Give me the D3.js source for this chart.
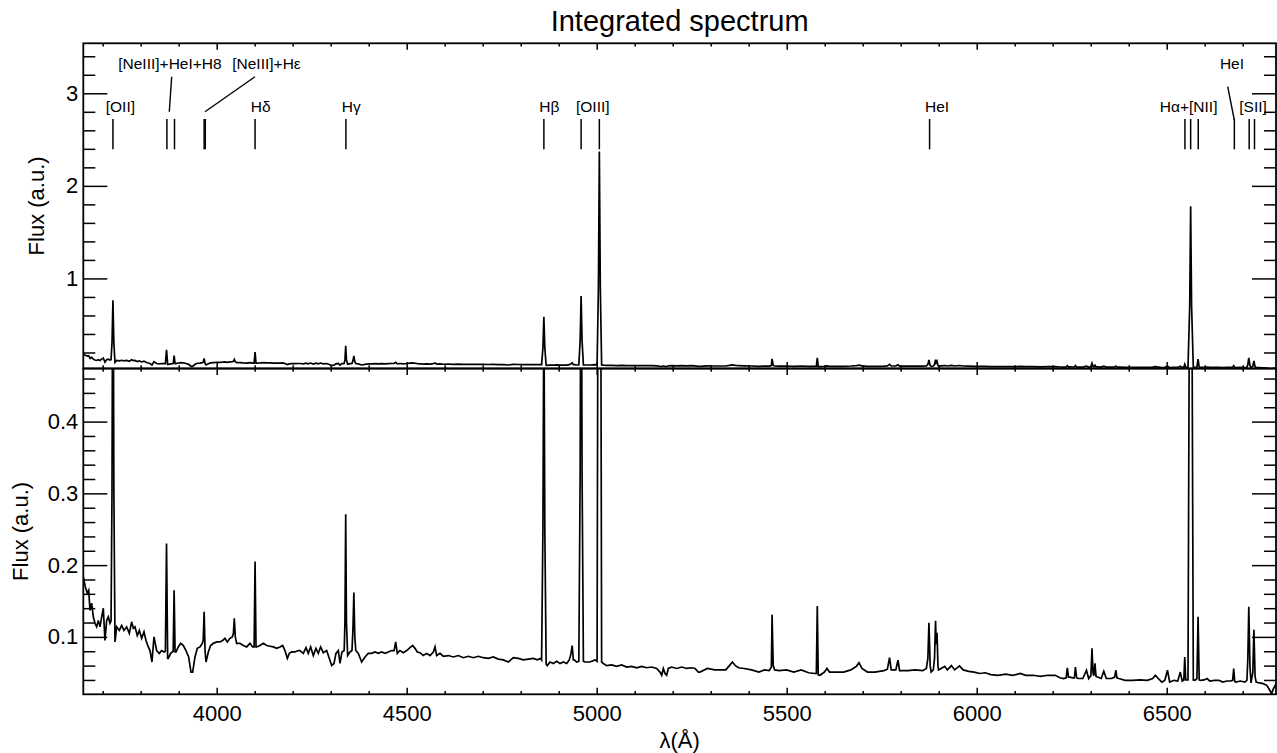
<!DOCTYPE html>
<html>
<head>
<meta charset="utf-8">
<title>Integrated spectrum</title>
<script src="https://cdn.jsdelivr.net/npm/d3@7"></script>
<style>
  body { margin: 0; background: #fff; }
  svg { display: block; font-family: "Liberation Sans", Arial, Helvetica, sans-serif; }
</style>
</head>
<body>
<script>
// spectrum as [wavelength (A), flux (a.u.)]
const specBlue = [
  [3649, 0.184], [3654.2, 0.170], [3659.5, 0.161], [3663.2, 0.165], [3666.6, 0.137], [3671, 0.147],
  [3675.3, 0.128], [3679.7, 0.119], [3684.2, 0.114], [3688.4, 0.123], [3692.9, 0.114], [3697.4, 0.128],
  [3701.6, 0.140], [3706, 0.095], [3710.5, 0.123], [3714.7, 0.128], [3719.2, 0.119],
  [3722, 0.122], [3724.5, 0.30], [3727, 0.765], [3729.5, 0.30], [3732.4, 0.093],
  [3736.8, 0.114], [3743.8, 0.109], [3749.9, 0.116], [3756.1, 0.109], [3763.1, 0.114], [3770.1, 0.105],
  [3776.2, 0.121], [3780.6, 0.112], [3785.0, 0.114], [3791.1, 0.102], [3796.4, 0.109], [3802.6, 0.098],
  [3808.7, 0.107], [3814.0, 0.095], [3820.1, 0.086], [3824.5, 0.081], [3829.7, 0.065], [3835.0, 0.100],
  [3842.0, 0.081], [3849.0, 0.077], [3855.2, 0.081], [3861.3, 0.079], [3865, 0.080],
  [3868, 0.230], [3871, 0.070], [3872.7, 0.070], [3878.9, 0.077], [3885.5, 0.080],
  [3888, 0.165], [3890.5, 0.079], [3892.9, 0.079], [3899.0, 0.086], [3905.2, 0.091], [3912.2, 0.088],
  [3919.2, 0.081], [3926.2, 0.072], [3932.4, 0.051], [3936.8, 0.051], [3942.9, 0.072], [3949.0, 0.084],
  [3956.1, 0.086], [3962.2, 0.091], [3964.5, 0.095], [3967, 0.135], [3969.5, 0.080], [3971.9, 0.065],
  [3978.0, 0.079], [3984.1, 0.088], [3991.1, 0.091], [3999.9, 0.093], [4008.7, 0.093], [4015.7, 0.095],
  [4021.8, 0.098], [4028.0, 0.093], [4035.0, 0.098], [4041.1, 0.100], [4044, 0.105], [4046.4, 0.126],
  [4049, 0.100], [4052.5, 0.091], [4061.3, 0.091], [4070.1, 0.088], [4078.8, 0.086], [4087.6, 0.091],
  [4094.6, 0.086], [4098.5, 0.086], [4101, 0.205], [4103.5, 0.086], [4105.2, 0.086], [4114.0, 0.088],
  [4122.7, 0.091], [4131.5, 0.088], [4140.3, 0.087], [4149.0, 0.086], [4157.8, 0.084], [4166.6, 0.086],
  [4173.6, 0.088], [4179.7, 0.081], [4185.9, 0.070], [4191.2, 0.077], [4197.3, 0.079], [4206.1, 0.079],
  [4214.9, 0.081]
];

const specMid = [
  [4219.2, 0.081], [4228.0, 0.077], [4235.0, 0.085], [4241.1, 0.077], [4247.3, 0.086], [4254.3, 0.074],
  [4261.3, 0.084], [4267.4, 0.077], [4273.6, 0.086], [4280.6, 0.078], [4289.4, 0.081], [4296.4, 0.070],
  [4302.5, 0.060], [4308.7, 0.063], [4313.9, 0.077], [4320.1, 0.081], [4324.5, 0.063], [4329.7, 0.079],
  [4335.5, 0.081], [4337.5, 0.120], [4339.5, 0.271], [4341.5, 0.120], [4344.6, 0.074], [4350.8, 0.079],
  [4356, 0.081], [4358.5, 0.110], [4361, 0.162], [4363.5, 0.100], [4366, 0.081], [4372.7, 0.077],
  [4381.5, 0.065], [4390.3, 0.072], [4399.0, 0.077], [4407.8, 0.077], [4416.6, 0.079], [4425.3, 0.077],
  [4434.1, 0.079], [4442.9, 0.077], [4451.7, 0.079], [4460.4, 0.081], [4467, 0.081], [4471, 0.093],
  [4475.3, 0.077], [4482.4, 0.081], [4491.1, 0.078], [4499.9, 0.081], [4508.7, 0.085], [4515.7, 0.088],
  [4521.8, 0.084], [4528.0, 0.079], [4535.0, 0.078], [4543.8, 0.074], [4552.5, 0.077], [4561.3, 0.074],
  [4570.1, 0.079], [4574.5, 0.086], [4578.9, 0.074], [4587.6, 0.077], [4596.4, 0.073], [4609.6, 0.074],
  [4622.7, 0.072], [4635.9, 0.074], [4649.0, 0.071], [4662.2, 0.073], [4675.3, 0.071], [4688.5, 0.073],
  [4701.7, 0.071], [4714.8, 0.070], [4728.0, 0.072], [4741.1, 0.069], [4754.3, 0.068], [4767.5, 0.065],
  [4780.6, 0.071], [4793.8, 0.070], [4806.9, 0.068], [4820.1, 0.069], [4833.3, 0.070], [4843.8, 0.068],
  [4852.5, 0.070], [4855, 0.068], [4858.5, 0.25], [4861, 0.585], [4863.5, 0.25], [4867, 0.062],
  [4870, 0.060], [4877.1, 0.065], [4885.9, 0.063], [4894.6, 0.066], [4903.4, 0.063], [4912.2, 0.065],
  [4921.0, 0.063], [4928.0, 0.068], [4932.4, 0.077], [4935.5, 0.088], [4938.5, 0.068], [4941.1, 0.068],
  [4947.3, 0.065], [4953, 0.066], [4956.5, 0.33], [4959, 0.809], [4961.5, 0.33], [4965, 0.066],
  [4969.2, 0.065], [4982.3, 0.065], [4995.5, 0.068], [5001, 0.066], [5004.5, 0.90], [5007, 2.37],
  [5009.5, 0.90], [5013, 0.065], [5017.5, 0.063], [5026.2, 0.060], [5039.4, 0.061], [5052.6, 0.059],
  [5065.7, 0.061], [5078.9, 0.058], [5092.0, 0.059], [5105.2, 0.057], [5118.4, 0.059], [5131.5, 0.057],
  [5144.7, 0.058], [5157.8, 0.056], [5166.6, 0.051], [5171.0, 0.0465], [5175.4, 0.056], [5179.8, 0.049],
  [5184.1, 0.0465], [5188.5, 0.056], [5197.3, 0.058], [5210.5, 0.056], [5223.6, 0.058], [5236.8, 0.056],
  [5249.9, 0.057], [5258.7, 0.056], [5267.5, 0.051]
];

const specRed = [
  [5271.8, 0.051], [5291.2, 0.056], [5310.5, 0.054], [5325.1, 0.054], [5339.6, 0.054], [5349.3, 0.060],
  [5357.0, 0.065], [5364.8, 0.060], [5373.5, 0.057], [5388.0, 0.056], [5407.4, 0.054], [5426.8, 0.051],
  [5441.3, 0.054], [5453.9, 0.053], [5459.7, 0.058], [5461.5, 0.131], [5464.5, 0.060], [5468.4, 0.054],
  [5480.1, 0.053], [5499.4, 0.054], [5518.8, 0.051], [5538.2, 0.054], [5557.5, 0.050], [5574.0, 0.049],
  [5578, 0.049], [5580.5, 0.143], [5583, 0.047], [5587.6, 0.0465], [5599.2, 0.051], [5606.0, 0.056],
  [5612.8, 0.051], [5630.2, 0.051], [5649.6, 0.051], [5668.9, 0.054], [5683.5, 0.059], [5690.2, 0.064],
  [5698.0, 0.056], [5712.5, 0.051], [5731.9, 0.051], [5756.1, 0.053], [5765, 0.055], [5770.6, 0.071],
  [5775, 0.054], [5787.1, 0.054], [5792.9, 0.0675], [5797, 0.053], [5819.0, 0.053], [5838.4, 0.054],
  [5857.8, 0.053], [5867.5, 0.056], [5871.5, 0.070], [5874.3, 0.1196], [5877.5, 0.060], [5880.1, 0.051],
  [5885.9, 0.054], [5889, 0.070], [5891.7, 0.1224], [5893.5, 0.090], [5895.6, 0.1056], [5898, 0.060],
  [5899.5, 0.054], [5906.2, 0.056], [5915.9, 0.059], [5922.7, 0.054], [5933.4, 0.060], [5942.1, 0.054],
  [5954.7, 0.0595], [5964.4, 0.054], [5978.9, 0.052], [5993.4, 0.051], [6008.0, 0.049], [6022.5, 0.050],
  [6037.0, 0.0475], [6056.4, 0.0465], [6075.7, 0.048], [6095.1, 0.0465], [6114.5, 0.049], [6129.0, 0.0465],
  [6148.4, 0.0465], [6167.8, 0.045], [6187.1, 0.0465], [6206.5, 0.0465], [6219.1, 0.043], [6228.8, 0.042],
  [6235.5, 0.043], [6238.5, 0.057], [6241.5, 0.044], [6245.3, 0.044], [6253.0, 0.043], [6257, 0.043],
  [6259.8, 0.058], [6263, 0.043], [6266.6, 0.042], [6279.2, 0.042], [6288.9, 0.0535], [6294.7, 0.042],
  [6300.5, 0.046], [6303.4, 0.084], [6306, 0.050], [6308.2, 0.046], [6311.1, 0.063], [6314, 0.045],
  [6317.9, 0.044], [6327.6, 0.042], [6334.4, 0.052], [6341.1, 0.042], [6354.7, 0.042], [6363, 0.044],
  [6366.3, 0.0535], [6369, 0.043], [6374.1, 0.042], [6390.6, 0.0395], [6409.9, 0.0395], [6429.3, 0.040],
  [6448.7, 0.0395], [6463.2, 0.042], [6470.0, 0.0465], [6477.7, 0.042], [6487.4, 0.037], [6495.1, 0.0395],
  [6502.0, 0.0535], [6507.8, 0.037], [6519.4, 0.0395], [6529.1, 0.0385], [6535.8, 0.051], [6540.7, 0.0385],
  [6545, 0.040], [6547.5, 0.072], [6550, 0.040], [6556, 0.040], [6560.5, 0.70], [6563, 1.78],
  [6565.5, 0.70], [6570, 0.040], [6574.6, 0.0395], [6579.5, 0.042], [6582.5, 0.128], [6585.5, 0.040],
  [6589.1, 0.0395], [6598.8, 0.040], [6606.5, 0.042], [6613.4, 0.0385], [6625.9, 0.0395], [6637.5, 0.0395],
  [6647.2, 0.037], [6658.9, 0.0385], [6668.5, 0.0385], [6673.5, 0.0395], [6676.3, 0.0558], [6679, 0.038],
  [6682.1, 0.037], [6693.7, 0.0385], [6705.3, 0.037], [6711.1, 0.0395], [6713.5, 0.070], [6716, 0.142],
  [6719, 0.060], [6721.8, 0.0358], [6726.5, 0.050], [6729.5, 0.110], [6732.5, 0.045], [6735.4, 0.037],
  [6744.1, 0.0358], [6753.8, 0.0349], [6763.4, 0.0325], [6771.2, 0.0256], [6776.1, 0.021], [6780.9, 0.0279],
  [6785.7, 0.0325], [6790.6, 0.035]
];

// line identifications
const lineMarks = [3727, 3869, 3889, 3967, 3970, 4101, 4340, 4861, 4959, 5007, 5876,
                   6548, 6563, 6583, 6678, 6717, 6731];
const lineLabels = [
  { text: "[OII]", at: 3708, tier: 1 },
  { text: "[NeIII]+HeI+H8", at: 3741, tier: 2 },
  { text: "[NeIII]+H\u03b5", at: 4041, tier: 2 },
  { text: "H\u03b4", at: 4089.5, tier: 1 },
  { text: "H\u03b3", at: 4329, tier: 1 },
  { text: "H\u03b2", at: 4849, tier: 1 },
  { text: "[OIII]", at: 4945.5, tier: 1 },
  { text: "HeI", at: 5864, tier: 1 },
  { text: "H\u03b1+[NII]", at: 6482, tier: 1 },
  { text: "[SII]", at: 6691, tier: 1 },
  { text: "HeI", at: 6640, tier: 2 }
];
// leader lines: label end -> line end (wavelengths)
const leaders = [
  { from: 3881.6, to: 3875.3, low: false },
  { from: 4100.8, to: 3969.2, low: false },
  { from: 6660.5, to: 6677.9, low: true }
];

const xMajor = [4000, 4500, 5000, 5500, 6000, 6500];
const topMajor = [1, 2, 3];
const botMajor = [0.1, 0.2, 0.3, 0.4];

const W = 1277, H = 753;
const pLeft = 83.3, pRight = 1276, pTop = 43.3, pMid = 368.5, pBottom = 694.3;

const spectrum = specBlue.concat(specMid, specRed);

const x = d3.scaleLinear().domain([3649, 6787.6]).range([pLeft, pRight]);
const yTop = d3.scaleLinear().domain([0.027, 3.54]).range([pMid, pTop]);
const yBot = d3.scaleLinear().domain([0.02, 0.474]).range([pBottom, pMid]);

const xMinor = d3.range(3700, 6800, 100).filter(v => !xMajor.includes(v));
const topMinor = d3.range(0.2, 3.5, 0.2).map(v => +v.toFixed(1)).filter(v => !topMajor.includes(v));
const botMinor = d3.range(0.04, 0.47, 0.02).map(v => +v.toFixed(2)).filter(v => !botMajor.includes(v));

const svg = d3.select("body").append("svg")
  .attr("width", W)
  .attr("height", H);

const defs = svg.append("defs");

function panel(name, y, y0, y1, yMaj, yMin, showX) {
  defs.append("clipPath").attr("id", "clip-" + name)
    .append("rect")
    .attr("x", pLeft).attr("y", y1)
    .attr("width", pRight - pLeft).attr("height", y0 - y1);

  const g = svg.append("g");

  const line = d3.line()
    .x(d => x(d[0]))
    .y(d => y(d[1]));

  g.append("path")
    .datum(spectrum)
    .attr("clip-path", "url(#clip-" + name + ")")
    .attr("fill", "none")
    .attr("stroke", "#000")
    .attr("stroke-width", 1.7)
    .attr("stroke-linejoin", "miter")
    .attr("d", line);

  const clean = sel => {
    sel.select(".domain").remove();
    sel.selectAll(".tick line").attr("stroke-width", 1.5);
    sel.selectAll("text").attr("fill", "#000");
    sel.attr("font-family", null).attr("font-size", 22);
  };

  // x axes (bottom and top of the panel), ticks pointing inward
  g.append("g").attr("transform", `translate(0,${y0})`)
    .call(d3.axisBottom(x).tickValues(xMajor).tickSizeInner(-6.5).tickSizeOuter(0)
      .tickPadding(11).tickFormat(showX ? d3.format("d") : ""))
    .call(clean);
  g.append("g").attr("transform", `translate(0,${y0})`)
    .call(d3.axisBottom(x).tickValues(xMinor).tickSizeInner(-3.2).tickSizeOuter(0).tickFormat(""))
    .call(clean);
  g.append("g").attr("transform", `translate(0,${y1})`)
    .call(d3.axisTop(x).tickValues(xMajor).tickSizeInner(-6.5).tickSizeOuter(0).tickFormat(""))
    .call(clean);
  g.append("g").attr("transform", `translate(0,${y1})`)
    .call(d3.axisTop(x).tickValues(xMinor).tickSizeInner(-3.2).tickSizeOuter(0).tickFormat(""))
    .call(clean);

  // y axes (left and right)
  g.append("g").attr("transform", `translate(${pLeft},0)`)
    .call(d3.axisLeft(y).tickValues(yMaj).tickSizeInner(-24).tickSizeOuter(0).tickPadding(5)
      .tickFormat(d => String(d)))
    .call(clean);
  g.append("g").attr("transform", `translate(${pLeft},0)`)
    .call(d3.axisLeft(y).tickValues(yMin).tickSizeInner(-12).tickSizeOuter(0).tickFormat(""))
    .call(clean);
  g.append("g").attr("transform", `translate(${pRight},0)`)
    .call(d3.axisRight(y).tickValues(yMaj).tickSizeInner(-24).tickSizeOuter(0).tickFormat(""))
    .call(clean);
  g.append("g").attr("transform", `translate(${pRight},0)`)
    .call(d3.axisRight(y).tickValues(yMin).tickSizeInner(-12).tickSizeOuter(0).tickFormat(""))
    .call(clean);

  g.append("rect")
    .attr("x", pLeft).attr("y", y1)
    .attr("width", pRight - pLeft).attr("height", y0 - y1)
    .attr("fill", "none")
    .attr("stroke", "#000")
    .attr("stroke-width", 1.8);

  return g;
}

panel("top", yTop, pMid, pTop, topMajor, topMinor, false);
panel("bot", yBot, pBottom, pMid, botMajor, botMinor, true);

// y titles
svg.append("text")
  .attr("transform", `translate(44,${(pTop + pMid) / 2}) rotate(-90)`)
  .attr("text-anchor", "middle")
  .attr("font-size", 22)
  .text("Flux (a.u.)");
svg.append("text")
  .attr("transform", `translate(28,${(pMid + pBottom) / 2}) rotate(-90)`)
  .attr("text-anchor", "middle")
  .attr("font-size", 22)
  .text("Flux (a.u.)");

// x title
svg.append("text")
  .attr("x", (pLeft + pRight) / 2)
  .attr("y", 748)
  .attr("text-anchor", "middle")
  .attr("font-size", 22)
  .text("\u03bb(\u00c5)");

// title
svg.append("text")
  .attr("x", (pLeft + pRight) / 2)
  .attr("y", 31)
  .attr("text-anchor", "middle")
  .attr("font-size", 29)
  .text("Integrated spectrum");

// line markers
const ann = svg.append("g");
ann.selectAll("line.mark")
  .data(lineMarks)
  .enter()
  .append("line")
  .attr("class", "mark")
  .attr("x1", d => x(d)).attr("x2", d => x(d))
  .attr("y1", 119).attr("y2", 149.3)
  .attr("stroke", "#000")
  .attr("stroke-width", 1.5);

ann.selectAll("text")
  .data(lineLabels)
  .enter()
  .append("text")
  .attr("x", d => x(d.at))
  .attr("y", d => d.tier === 1 ? 112.3 : 69.3)
  .attr("font-size", 15.5)
  .text(d => d.text);

ann.selectAll("line.leader")
  .data(leaders)
  .enter()
  .append("line")
  .attr("class", "leader")
  .attr("x1", d => x(d.from)).attr("y1", d => d.low ? 86.7 : 76.7)
  .attr("x2", d => x(d.to)).attr("y2", d => d.low ? 120 : 111.7)
  .attr("stroke", "#000")
  .attr("stroke-width", 1.4);
</script>
</body>
</html>
